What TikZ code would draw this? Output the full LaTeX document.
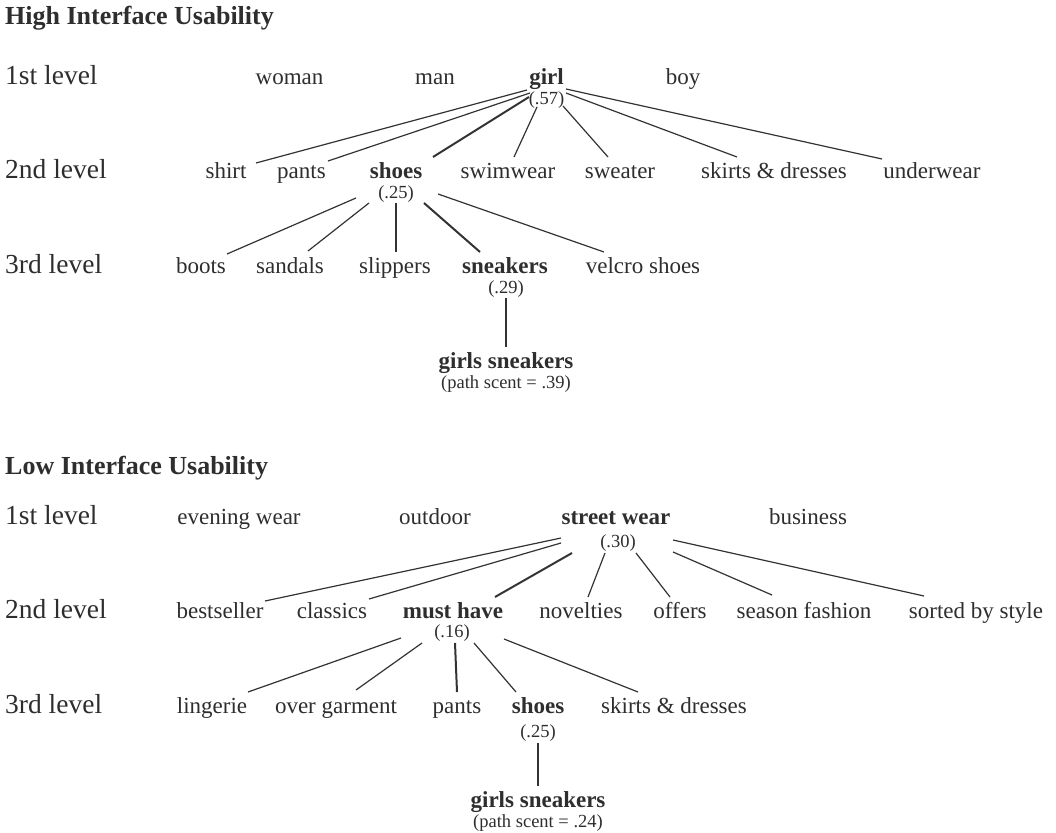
\documentclass[tikz,border=0pt]{standalone}
\usepackage{fontspec}
\setmainfont{Liberation Serif}
\definecolor{ink}{HTML}{2E2E2E}
\definecolor{linec}{HTML}{333333}
\begin{document}
\begin{tikzpicture}[x=1pt,y=-1pt,
  ttl/.style={anchor=base west,inner sep=0pt,text=ink,font=\fontsize{26}{30}\selectfont\bfseries},
  lvl/.style={anchor=base west,inner sep=0pt,text=ink,font=\fontsize{27.5}{31}\selectfont},
  itm/.style={anchor=base,inner sep=0pt,text=ink,font=\fontsize{23}{27}\selectfont},
  bitm/.style={anchor=base,inner sep=0pt,text=ink,font=\fontsize{23}{27}\selectfont\bfseries},
  num/.style={anchor=base,inner sep=0pt,text=ink,font=\fontsize{18.5}{22}\selectfont},
  link/.style={draw=linec,line width=1.2pt},
  hlink/.style={draw=linec,line width=2pt}]
\fill[white] (0,0) rectangle (1056,832);
\useasboundingbox (0,0) rectangle (1056,832);

% ---------------- High interface usability ----------------
\node[ttl] (t1) at (5,25) {High Interface Usability};
\node[lvl] (l11) at (5,85) {1st level};
\node[lvl] (l12) at (5,178) {2nd level};
\node[lvl] (l13) at (5,273) {3rd level};

\node[itm] (woman) at (289.5,85) {woman};
\node[itm] (man) at (435,85) {man};
\node[bitm] (girl) at (546.5,85) {girl};
\node[num] (g57) at (546.5,104) {(.57)};
\node[itm] (boy) at (683,85) {boy};

\node[itm] (shirt) at (226,178) {shirt};
\node[itm] (pants) at (301.5,178) {pants};
\node[bitm] (shoes) at (396,178) {shoes};
\node[num] (s25) at (396,198) {(.25)};
\node[itm] (swim) at (508,178) {swimwear};
\node[itm] (sweater) at (620,178) {sweater};
\node[itm] (skirts) at (774,178) {skirts \& dresses};
\node[itm] (under) at (932,178) {underwear};

\node[itm] (boots) at (201,273) {boots};
\node[itm] (sandals) at (290,273) {sandals};
\node[itm] (slippers) at (395,273) {slippers};
\node[bitm] (sneak) at (505,273) {sneakers};
\node[num] (s29) at (506,293) {(.29)};
\node[itm] (velcro) at (643,273) {velcro shoes};

\node[bitm] (gs1) at (506,368) {girls sneakers};
\node[num] (ps1) at (506,388) {(path scent = .39)};

\draw[link] ([shift={(-19.5,-14)}]g57.base) -- ([shift={(30,-15)}]shirt.base);
\draw[link] ([shift={(-16.5,-11)}]g57.base) -- ([shift={(26.5,-17)}]pants.base);
\draw[hlink] ([shift={(-17.5,-7)}]g57.base) -- ([shift={(37,-21)}]shoes.base);
\draw[link] ([shift={(-9.5,3)}]g57.base) -- ([shift={(6,-21)}]swim.base);
\draw[link] ([shift={(16.5,2)}]g57.base) -- ([shift={(-12,-21)}]sweater.base);
\draw[link] ([shift={(19.5,-11)}]g57.base) -- ([shift={(-37,-21)}]skirts.base);
\draw[link] ([shift={(19.5,-15)}]g57.base) -- ([shift={(-50,-19)}]under.base);

\draw[link] ([shift={(-40,0)}]s25.base) -- ([shift={(26,-19)}]boots.base);
\draw[link] ([shift={(-27,5)}]s25.base) -- ([shift={(18,-22)}]sandals.base);
\draw[link] ([shift={(0,5)}]s25.base) -- ([shift={(1,-21)}]slippers.base);
\draw[hlink] ([shift={(28,5)}]s25.base) -- ([shift={(-25,-21)}]sneak.base);
\draw[link] ([shift={(42,-4)}]s25.base) -- ([shift={(-39,-21)}]velcro.base);

\draw[hlink] ([shift={(0,5)}]s29.base) -- ([shift={(0,-21)}]gs1.base);

% ---------------- Low interface usability ----------------
\node[ttl] (t2) at (5,474) {Low Interface Usability};
\node[lvl] (l21) at (5,524) {1st level};
\node[lvl] (l22) at (5,618) {2nd level};
\node[lvl] (l23) at (5,713) {3rd level};

\node[itm] (evening) at (239,524) {evening wear};
\node[itm] (outdoor) at (435,524) {outdoor};
\node[bitm] (street) at (616,524) {street wear};
\node[num] (s30) at (618,547) {(.30)};
\node[itm] (business) at (808,524) {business};

\node[itm] (best) at (220,618) {bestseller};
\node[itm] (classics) at (332,618) {classics};
\node[bitm] (must) at (453,618) {must have};
\node[num] (s16) at (452,637) {(.16)};
\node[itm] (novel) at (581,618) {novelties};
\node[itm] (offers) at (680,618) {offers};
\node[itm] (season) at (804,618) {season fashion};
\node[itm] (sorted) at (976,618) {sorted by style};

\node[itm] (ling) at (212,713) {lingerie};
\node[itm] (over) at (336,713) {over garment};
\node[itm] (pants2) at (457,713) {pants};
\node[bitm] (shoes2) at (538,713) {shoes};
\node[num] (s25b) at (538,737) {(.25)};
\node[itm] (skirts2) at (674,713) {skirts \& dresses};

\node[bitm] (gs2) at (538,807) {girls sneakers};
\node[num] (ps2) at (538,827) {(path scent = .24)};

\draw[link] ([shift={(-57,-9)}]s30.base) -- ([shift={(45,-17)}]best.base);
\draw[link] ([shift={(-57,-4)}]s30.base) -- ([shift={(37,-19)}]classics.base);
\draw[hlink] ([shift={(-46,6)}]s30.base) -- ([shift={(42,-21)}]must.base);
\draw[link] ([shift={(-13,6)}]s30.base) -- ([shift={(7,-21)}]novel.base);
\draw[link] ([shift={(18,6)}]s30.base) -- ([shift={(-10,-21)}]offers.base);
\draw[link] ([shift={(55,5)}]s30.base) -- ([shift={(-32,-23)}]season.base);
\draw[link] ([shift={(55,-7)}]s30.base) -- ([shift={(-52,-22)}]sorted.base);

\draw[link] ([shift={(-51,1)}]s16.base) -- ([shift={(36,-21)}]ling.base);
\draw[link] ([shift={(-30,6)}]s16.base) -- ([shift={(20,-23)}]over.base);
\draw[hlink] ([shift={(3,6)}]s16.base) -- ([shift={(0,-21)}]pants2.base);
\draw[link] ([shift={(22,6)}]s16.base) -- ([shift={(-22,-21)}]shoes2.base);
\draw[link] ([shift={(52,2)}]s16.base) -- ([shift={(-36,-21)}]skirts2.base);

\draw[hlink] ([shift={(0,6)}]s25b.base) -- ([shift={(0,-21)}]gs2.base);
\end{tikzpicture}
\end{document}
